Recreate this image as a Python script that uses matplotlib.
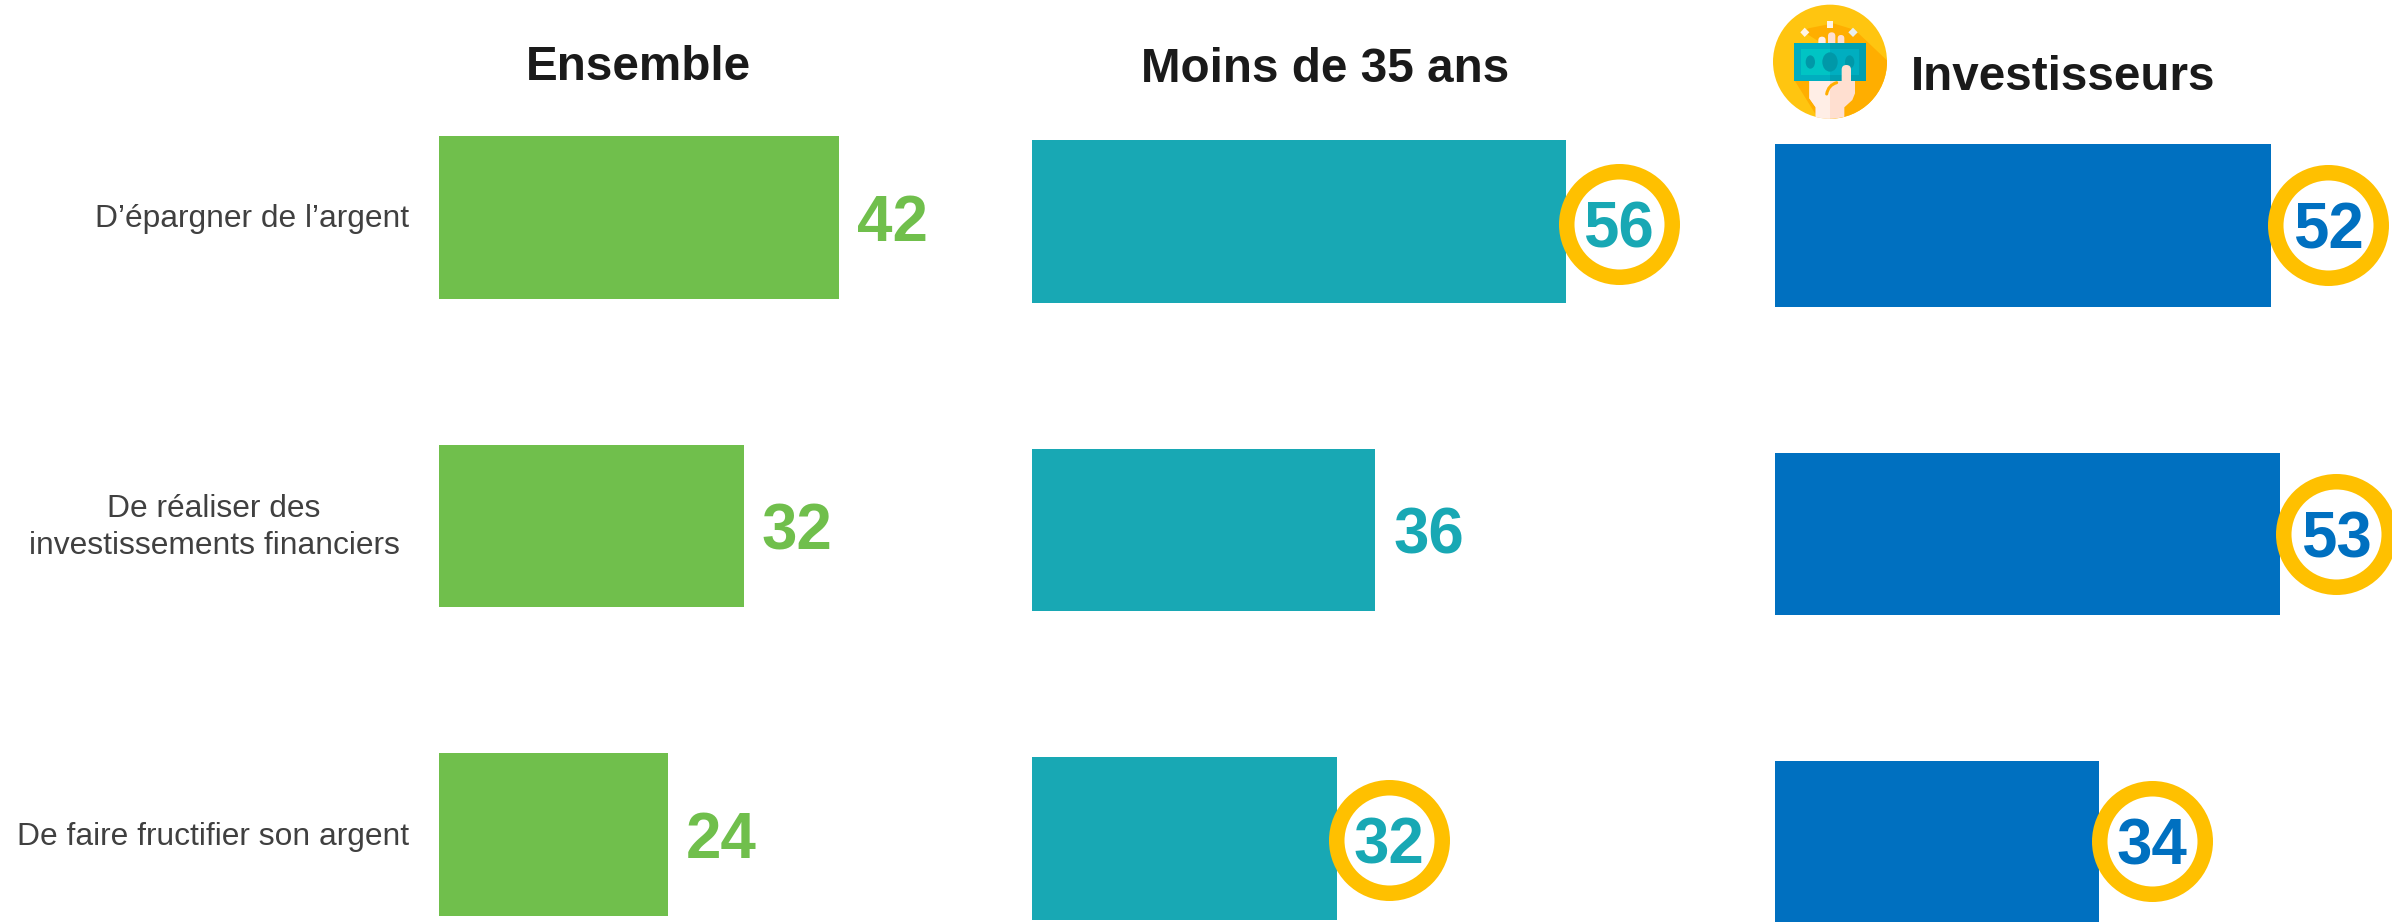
import matplotlib
matplotlib.use("Agg")
import matplotlib.pyplot as plt
from matplotlib.transforms import ScaledTranslation
from matplotlib.patches import Ellipse, Polygon, FancyBboxPatch, PathPatch
from matplotlib.path import Path

plt.rcParams['font.family'] = ['Liberation Sans', 'DejaVu Sans']

categories = ["D’épargner de l’argent", "De réaliser des\ninvestissements financiers", "De faire fructifier son argent"]
panels = ["Ensemble", "Moins de 35 ans", "Investisseurs"]
ensemble = [42, 32, 24]
moins35 = [56, 36, 32]
investisseurs = [52, 53, 34]
highlight_ensemble = [False, False, False]
highlight_moins35 = [True, False, True]
highlight_invest = [True, True, True]
colors = ["#70BF4C", "#18A8B4", "#0070C0"]

W, H = 2392, 922
fig = plt.figure(figsize=(W/100, H/100), dpi=100, facecolor="white")
PX = 0.72  # points per pixel at dpi 100
PX_UNIT = 9.53
ROW = 308.5
BAR_H = 162.6

lefts = [439, 1032, 1775]
tops = [136, 140, 144]
title_x = [638, 1325, 2063]
title_y = [68, 69, 77]
series = [ensemble, moins35, investisseurs]
flags = [highlight_ensemble, highlight_moins35, highlight_invest]
circle_dx = [[0, 0, 0], [53, 0, 52], [57.6, 56, 53]]
circle_dy = [[0, 0, 0], [3, 0, 2], [0, 0, -1]]

for i, (vals, flg) in enumerate(zip(series, flags)):
    ax_w = 60 * PX_UNIT
    ax_top = tops[i] - (ROW - BAR_H) / 2
    ax_h = 3 * ROW
    ax = fig.add_axes([lefts[i]/W, 1 - (ax_top + ax_h)/H, ax_w/W, ax_h/H])
    ax.barh(range(3), vals, height=BAR_H/ROW, color=colors[i], zorder=1)
    ax.set_xlim(0, 60)
    ax.set_ylim(2.5, -0.5)
    ax.axis("off")
    for j, v in enumerate(vals):
        if flg[j]:
            dx, dy = circle_dx[i][j] * PX, circle_dy[i][j] * PX
            ax.plot([v], [j], marker="o", ms=105.5*PX, mfc="white", mec="#FFC000",
                    mew=15.5*PX, clip_on=False, zorder=3,
                    transform=ax.transData + ScaledTranslation(dx/72, -dy/72, fig.dpi_scale_trans))
            ax.annotate(str(v), xy=(v, j), xytext=(dx, -dy), textcoords="offset points",
                        ha="center", va="center_baseline", fontsize=45.8, fontweight="bold",
                        color=colors[i], zorder=4, annotation_clip=False)
        else:
            ax.annotate(str(v), xy=(v, j), xytext=(18*PX, 0), textcoords="offset points",
                        ha="left", va="center_baseline", fontsize=45.8, fontweight="bold",
                        color=colors[i], zorder=4, annotation_clip=False)
    fig.text(title_x[i]/W, 1 - title_y[i]/H, panels[i], ha="center", va="center",
             fontsize=34.3, fontweight="bold", color="#1A1A1A")

# category labels
label_x = [409, 214, 409]
label_ha = ["right", "center", "right"]
label_y = [219.5, 527.5, 836.5]
for c, x, ha, y in zip(categories, label_x, label_ha, label_y):
    fig.text(x/W, 1 - y/H, c, ha=ha, va="center", multialignment="center",
             fontsize=22.9, color="#404040", linespacing=1.3)

# icon drawn in a pixel-coordinate overlay
ov = fig.add_axes([0, 0, 1, 1], facecolor="none")
ov.set_xlim(0, W); ov.set_ylim(H, 0); ov.axis("off")

def z(x, y):
    return (1765 + x/3, y/3)

def poly(points, color, order, clip=None):
    p = Polygon([z(*q) for q in points], fc=color, ec="none", zorder=order)
    ov.add_patch(p)
    if clip is not None:
        p.set_clip_path(clip)
    return p

def rrect(x0, y0, x1, y1, color, order):
    a, b = z(x0, y0), z(x1, y1)
    w = b[0] - a[0]
    ov.add_patch(FancyBboxPatch(a, w, b[1] - a[1], boxstyle=f"round,pad=0,rounding_size={w/2}",
                                fc=color, ec="none", zorder=order))

disc = Ellipse(z(195, 185), 114, 114, fc="#FFC510", ec="none", zorder=5)
ov.add_patch(disc)
poly([(115, 95), (130, 85), (205, 70), (270, 90), (370, 185), (370, 250), (300, 340), (240, 365),
      (150, 340), (88, 240), (88, 130), (170, 130)], "#FFAE00", 6, disc)
# hand
poly([(133, 243), (270, 243), (270, 280), (262, 300), (238, 322), (238, 360), (152, 360), (152, 322),
      (133, 295)], "#FFDFD0", 7, disc)
poly([(133, 243), (195, 243), (195, 360), (152, 360), (152, 322), (133, 295)], "#FFEEE6", 7.1, disc)
rrect(160, 110, 182, 140, "#FFEEE6", 7)
rrect(189, 97, 211, 140, "#FFDFD0", 7)
rrect(218, 105, 238, 140, "#FFDFD0", 7)
# bill
poly([(88, 130), (195, 130), (195, 243), (88, 243)], "#00AEBF", 8)
poly([(195, 130), (302, 130), (302, 243), (195, 243)], "#009FB0", 8.1)
poly([(108, 148), (195, 148), (195, 225), (108, 225)], "#00C4C4", 8.2)
poly([(195, 148), (282, 148), (282, 225), (195, 225)], "#00AEC0", 8.3)
for x, w, h in [(136, 28, 40), (195, 46, 58), (254, 28, 40)]:
    ov.add_patch(Ellipse(z(x, 186), w/3, h/3, fc="#0098A8", ec="none", zorder=8.4))
# thumb and crease
rrect(230, 195, 258, 290, "#FFDFD0", 9)
verts = [z(185, 282), z(190, 255), z(215, 248)]
ov.add_patch(PathPatch(Path(verts, [Path.MOVETO, Path.CURVE3, Path.CURVE3]), fc="none",
                       ec="#FFAE00", lw=2.2, capstyle="round", zorder=9.5))
# sparkles
poly([(185, 63), (205, 63), (205, 85), (185, 85)], "#FFF4E6", 9)
poly([(106, 97), (119, 83), (133, 97), (119, 111)], "#FFF4E6", 9)
poly([(250, 97), (264, 83), (278, 97), (264, 111)], "#E8EEF0", 9)

fig.savefig("out.png", dpi=100, facecolor="white")
